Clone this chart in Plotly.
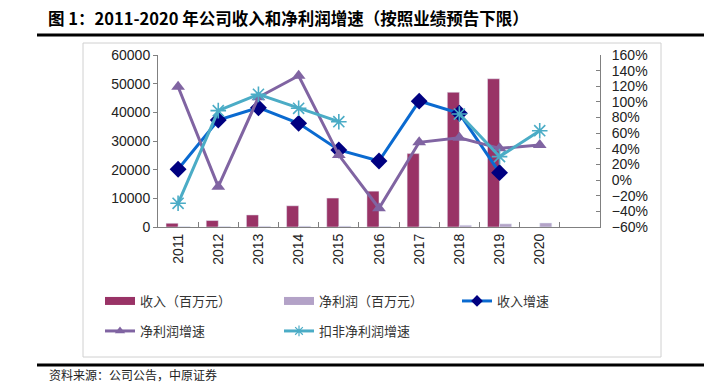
import plotly.graph_objects as go

years = ["2011", "2012", "2013", "2014", "2015", "2016", "2017", "2018", "2019", "2020"]
revenue = [1300, 2250, 4200, 7400, 10100, 12500, 25600, 47000, 51700, None]
net_profit = [150, 200, 250, 300, 300, 200, 200, 600, 1100, 1400]
revenue_growth = [0.138, 0.769, 0.926, 0.726, 0.385, 0.244, 1.01, 0.854, 0.095, None]
np_growth = [1.194, -0.084, 1.059, 1.335, 0.32, -0.36, 0.483, 0.542, 0.406, 0.449]
ded_growth = [-0.297, 0.888, 1.097, 0.918, 0.747, None, None, 0.845, 0.30, 0.632]

W, H = 716, 384
L, R, T, B = 158, 600, 55, 227
PW, PH = R - L, B - T

def px(x):
    return (x - L) / PW

def py(y):
    return (B - y) / PH

BAR1 = "#993366"
BAR2 = "#B3A2C7"
BLUE = "#0A6AD0"
NAVY = "#000080"
PURPLE = "#8064A2"
CYAN = "#4BACC6"
NUMFONT = "Liberation Sans, Arial, sans-serif"
CJK = "Noto Sans CJK SC, sans-serif"

fig = go.Figure()
fig.add_trace(go.Bar(x=years, y=revenue, name="收入（百万元）", marker_color=BAR1,
                     showlegend=False))
fig.add_trace(go.Bar(x=years, y=net_profit, name="净利润（百万元）", marker_color=BAR2,
                     showlegend=False))
fig.add_trace(go.Scatter(x=years, y=revenue_growth, yaxis="y2", mode="lines+markers",
                         name="收入增速", line=dict(color=BLUE, width=3),
                         marker=dict(symbol="diamond", size=13, color=NAVY),
                         showlegend=False))
fig.add_trace(go.Scatter(x=years, y=np_growth, yaxis="y2", mode="lines+markers",
                         name="净利润增速", line=dict(color=PURPLE, width=3),
                         marker=dict(symbol="triangle-up", size=12, color=PURPLE),
                         showlegend=False))
fig.add_trace(go.Scatter(x=years, y=ded_growth, yaxis="y2", mode="lines+markers",
                         name="扣非净利润增速", line=dict(color=CYAN, width=3),
                         marker=dict(symbol="asterisk-open", size=13, color=CYAN,
                                     line=dict(color=CYAN, width=1.6)),
                         connectgaps=False, showlegend=False))

# legend entries (one legend box per entry, to place them like the original)
fig.add_trace(go.Scatter(x=[None], y=[None], mode="lines", name="收入（百万元）",
                         line=dict(color=BAR1, width=8), legend="legend"))
fig.add_trace(go.Scatter(x=[None], y=[None], mode="lines", name="净利润（百万元）",
                         line=dict(color=BAR2, width=8), legend="legend2"))
fig.add_trace(go.Scatter(x=[None], y=[None], mode="lines+markers", name="收入增速",
                         line=dict(color=BLUE, width=3),
                         marker=dict(symbol="diamond", size=9, color=NAVY), legend="legend3"))
fig.add_trace(go.Scatter(x=[None], y=[None], mode="lines+markers", name="净利润增速",
                         line=dict(color=PURPLE, width=3),
                         marker=dict(symbol="triangle-up", size=9, color=PURPLE), legend="legend4"))
fig.add_trace(go.Scatter(x=[None], y=[None], mode="lines+markers", name="扣非净利润增速",
                         line=dict(color=CYAN, width=3),
                         marker=dict(symbol="asterisk-open", size=9, color=CYAN,
                                     line=dict(color=CYAN, width=1.2)), legend="legend5"))

axis_col = "#808080"

def leg(xpix, ypix):
    return dict(orientation="h", xref="container", yref="container",
                x=(xpix - 7) / W, y=1 - ypix / H,
                xanchor="left", yanchor="middle", bgcolor="rgba(0,0,0,0)",
                font=dict(family=CJK, size=13, color="#333333"), itemclick=False)

fig.update_layout(
    width=W, height=H,
    margin=dict(l=L, r=W - R, t=T, b=H - B),
    paper_bgcolor="white", plot_bgcolor="white",
    barmode="group", bargap=0.4, bargroupgap=0,
    title=dict(text="<b>图 1：2011-2020 年公司收入和净利润增速（按照业绩预告下限）</b>",
               xref="container", yref="container", x=48 / W, y=1 - 19 / H,
               xanchor="left", yanchor="middle",
               font=dict(family=CJK, size=16.5, color="black")),
    xaxis=dict(type="category", categoryorder="array", categoryarray=years,
               range=[-0.5, 10.5], showline=True, linecolor=axis_col, linewidth=1,
               ticks="inside", ticklen=5, tickcolor=axis_col, tickson="boundaries",
               tickangle=-90, showgrid=False, zeroline=False,
               tickfont=dict(family=NUMFONT, size=14, color="#222222")),
    yaxis=dict(range=[0, 60000], dtick=10000, tickformat="d", showline=True,
               linecolor=axis_col, ticks="outside", ticklen=4, tickcolor=axis_col,
               showgrid=False, zeroline=False,
               tickfont=dict(family=NUMFONT, size=14, color="#222222")),
    yaxis2=dict(range=[-0.6, 1.6], dtick=0.2, tickformat=".0%", overlaying="y",
                side="right", showline=True, linecolor=axis_col, ticks="inside",
                ticklen=4, tickcolor=axis_col, showgrid=False, zeroline=False,
                ticklabelstandoff=8,
                tickfont=dict(family=NUMFONT, size=14, color="#222222")),
    legend=leg(107, 301),
    legend2=leg(286, 301),
    legend3=leg(464, 301),
    legend4=leg(107, 331),
    legend5=leg(286, 331),
    shapes=[
        dict(type="rect", xref="paper", yref="paper", x0=px(83), x1=px(661),
             y0=py(357), y1=py(43), line=dict(color="#D0D0D0", width=1), layer="below"),
        dict(type="line", xref="paper", yref="paper", x0=px(37), x1=px(704),
             y0=py(35), y1=py(35), line=dict(color="black", width=3)),
        dict(type="line", xref="paper", yref="paper", x0=px(37), x1=px(704),
             y0=py(365), y1=py(365), line=dict(color="black", width=3)),
    ],
    annotations=[
        dict(text="资料来源：公司公告，中原证券", xref="paper", yref="paper",
             x=px(47), y=py(374), xanchor="left", yanchor="middle", showarrow=False,
             font=dict(family=CJK, size=12, color="#222222")),
    ],
)

fig.write_html("out.html", config={"displayModeBar": False},
               post_script="document.body.style.margin='0';document.body.style.overflow='hidden';")
